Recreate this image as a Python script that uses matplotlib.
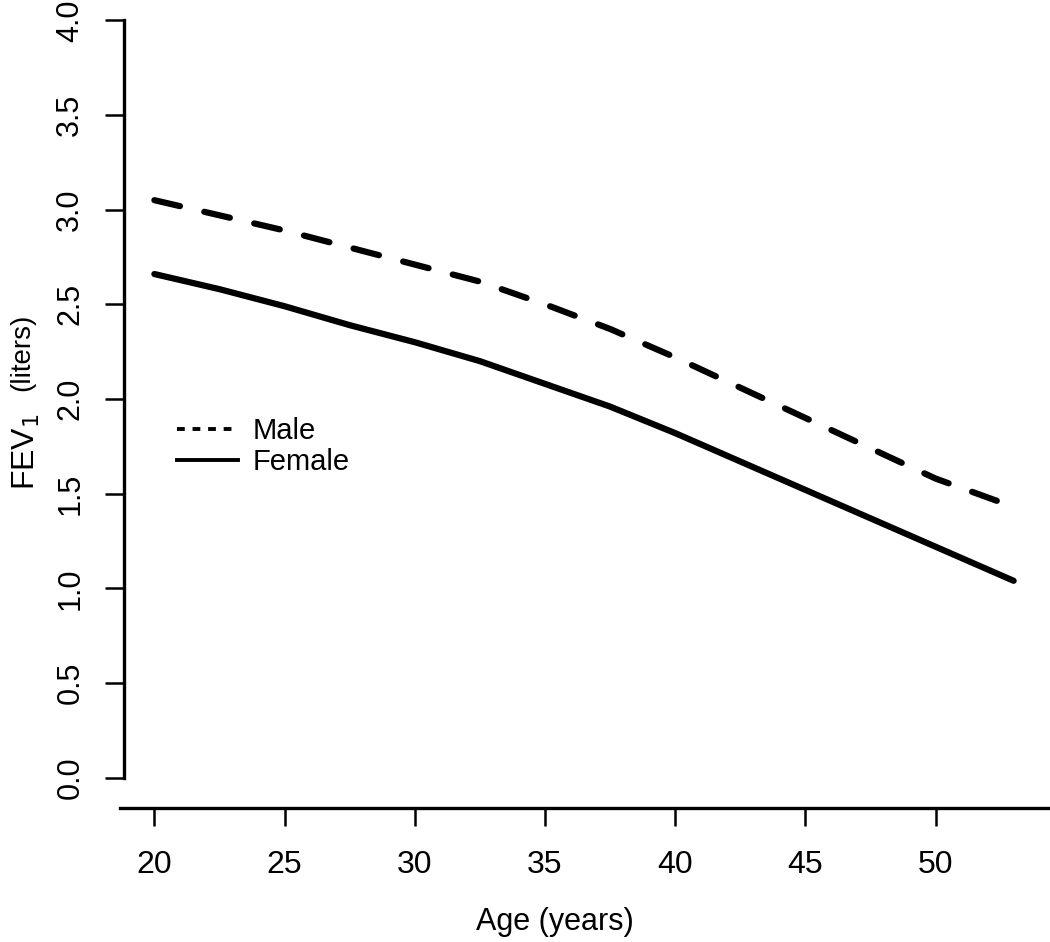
import matplotlib
matplotlib.use('Agg')
import matplotlib.pyplot as plt
from matplotlib.lines import Line2D

plt.rcParams['font.family'] = ['Liberation Sans', 'DejaVu Sans']

age = [20, 22.5, 25, 27.5, 30, 32.5, 35, 37.5, 40, 42.5, 45, 47.5, 50, 53]
male = [3.05, 2.97, 2.89, 2.80, 2.71, 2.62, 2.50, 2.37, 2.22, 2.06, 1.90, 1.74, 1.58, 1.43]
female = [2.66, 2.58, 2.49, 2.39, 2.30, 2.20, 2.08, 1.96, 1.82, 1.67, 1.52, 1.37, 1.22, 1.04]

x_ticks = [20, 25, 30, 35, 40, 45, 50]
y_ticks = [0.0, 0.5, 1.0, 1.5, 2.0, 2.5, 3.0, 3.5, 4.0]

W, H = 1050, 942
fig = plt.figure(figsize=(W / 100, H / 100), dpi=100)
ax = fig.add_axes([120 / W, 134 / H, 928 / W, 818 / H])

ax.plot(age, male, color='black', lw=4.5, ls=(0, (4.2, 4.0)),
        dash_capstyle='round', solid_capstyle='round')
ax.plot(age, female, color='black', lw=4.5, solid_capstyle='round')

# R-style padded ranges
pad = 0.04 * (age[-1] - age[0])
ax.set_xlim(age[0] - pad, age[-1] + pad)
ax.set_ylim(-0.16, 4.16)

for s in ['top', 'right']:
    ax.spines[s].set_visible(False)
ax.spines['left'].set_bounds(0, 4)
ax.spines['left'].set_position(('outward', -3))
for s in ['left', 'bottom']:
    ax.spines[s].set_linewidth(2.4)

ax.set_xticks(x_ticks)
ax.set_xticklabels([str(t) for t in x_ticks])
ax.set_yticks(y_ticks)
ax.set_yticklabels(['%.1f' % t for t in y_ticks], rotation=90, va='center')
ax.tick_params(axis='x', length=13, width=1.8, pad=17, labelsize=23)
ax.tick_params(axis='y', length=14, width=1.8, pad=14, labelsize=22)

fig.text(555 / W, 1 - 922 / H, 'Age (years)', ha='center', va='center', fontsize=22)
fig.text(26 / W, 1 - 452 / H, r'FEV$_1$', rotation=90, ha='center', va='center', fontsize=23)
fig.text(22 / W, 1 - 352 / H, '(liters)', rotation=90, ha='center', va='center', fontsize=20)

handles = [Line2D([], [], color='black', lw=2.8, ls=(0, (2.0, 2.0))),
           Line2D([], [], color='black', lw=2.8)]
fig.legend(handles, ['Male', 'Female'], loc='upper left',
           bbox_to_anchor=(177 / W, 1 - 417 / H), frameon=False,
           borderpad=0, borderaxespad=0, handlelength=2.1,
           handletextpad=0.5, labelspacing=0.12, fontsize=21)

fig.savefig('out.png', dpi=100)
